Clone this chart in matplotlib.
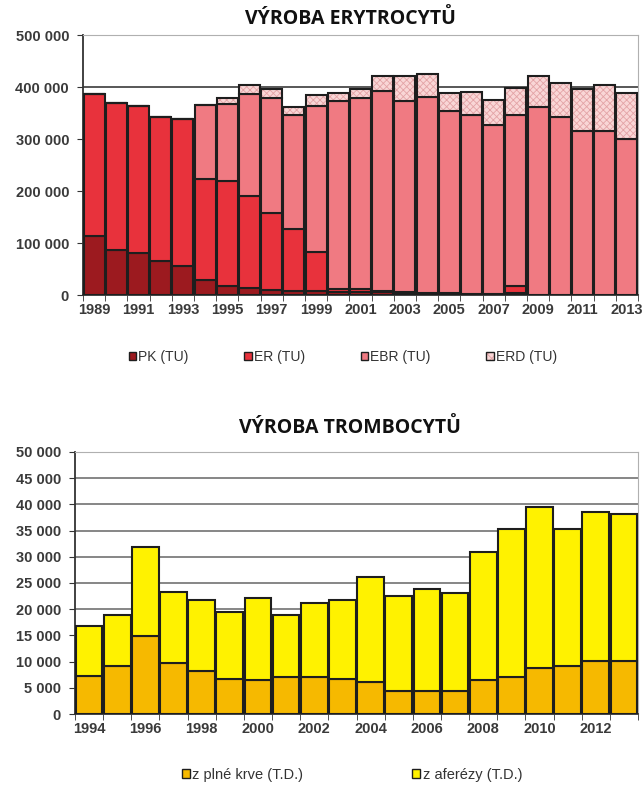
import matplotlib
matplotlib.use("Agg")
import matplotlib.pyplot as plt
import numpy as np
from matplotlib.ticker import FuncFormatter
from matplotlib.patches import Patch
from matplotlib.legend_handler import HandlerTuple

plt.rcParams['hatch.linewidth'] = 0.6

# ---------------- data: erythrocytes ----------------
years_ery = list(range(1989, 2014))
pk = [113000, 87000, 80000, 65000, 56000, 29000, 17000, 13000, 10000, 7000, 8000,
      5000, 6000, 5000, 3000, 2000, 2000, 1500, 1500, 3000, 0, 0, 0, 0, 0]
er = [273000, 282000, 284000, 278000, 283000, 195000, 203000, 177000, 147000, 120000, 74000,
      7000, 6000, 3000, 2000, 2000, 1000, 1000, 1000, 14000, 0, 0, 0, 0, 0]
ebr = [0, 0, 0, 0, 0, 141000, 148000, 197000, 221000, 220000, 282000,
       361000, 366000, 384000, 368000, 377000, 350000, 343500, 323500, 329000, 361000, 343000, 316000, 316000, 300000]
erd = [0, 0, 0, 0, 0, 0, 10000, 17000, 18000, 15000, 20000,
       16000, 19000, 29000, 48000, 44000, 36000, 45000, 49000, 53000, 60000, 65000, 81000, 87000, 89000]
ery_labels = ["PK (TU)", "ER (TU)", "EBR (TU)", "ERD (TU)"]

# ---------------- data: thrombocytes ----------------
years_tr = list(range(1994, 2014))
plna_krev = [7200, 9200, 14900, 9800, 8300, 6700, 6400, 7100, 7000, 6700, 6100,
             4300, 4300, 4300, 6500, 7000, 8800, 9100, 10100, 10100]
afereza_total = [16700, 18900, 31800, 23300, 21700, 19500, 22100, 18900, 21200, 21700, 26100,
                 22500, 23800, 23000, 31000, 35300, 39500, 35300, 38600, 38200]
afereza = [t - p for t, p in zip(afereza_total, plna_krev)]
tr_labels = ["z plné krve (T.D.)", "z aferézy (T.D.)"]

# ---------------- styling ----------------
tick_font = ['Liberation Sans', 'DejaVu Sans']
title_font = ['Open Sans', 'DejaVu Sans']
tick_color = '#3a3a3a'
edge = '#1e1e1e'

def fmt(v, pos):
    return f"{int(v):,}".replace(",", " ")

def style_axes(ax):
    ax.tick_params(axis='x', which='major', length=0, pad=6)
    ax.tick_params(axis='x', which='minor', length=4, color='#333333')
    ax.tick_params(axis='y', length=4, color='#333333', pad=6)
    for sp in ['top', 'right']:
        ax.spines[sp].set_color('#b0b0b0')
    for sp in ['left', 'bottom']:
        ax.spines[sp].set_color('#333333')
        ax.spines[sp].set_linewidth(1.3)
    for lab in ax.get_xticklabels() + ax.get_yticklabels():
        lab.set_family(tick_font)
        lab.set_fontsize(10.5)
        lab.set_color(tick_color)
        lab.set_fontweight('bold')

fig = plt.figure(figsize=(6.42, 7.86), dpi=100)

# ---- top chart ----
ax1 = fig.add_axes([83/642, 1-295/786, (638-83)/642, (295-35)/786])
x1 = np.arange(len(years_ery))
w = 0.95
cols = ['#9c1a1f', '#e8323c', '#f07a82', '#f9d6d6']
bottom = np.zeros(len(x1))
handles1 = []
for i, (vals, c) in enumerate(zip([pk, er, ebr, erd], cols)):
    vals = np.array(vals, dtype=float)
    if i == 3:
        b = ax1.bar(x1, vals, w, bottom=bottom, color=c, edgecolor='#e3a3a6', linewidth=0,
                    hatch='xxxxx', label=ery_labels[i], zorder=3)
        ax1.bar(x1, vals, w, bottom=bottom, color='none', edgecolor=edge, linewidth=1.5, zorder=4)
        handles1.append((Patch(facecolor=c, edgecolor='#e3a3a6', hatch='xxxx', linewidth=0),
                         Patch(facecolor='none', edgecolor=edge, linewidth=1.0)))
    else:
        b = ax1.bar(x1, vals, w, bottom=bottom, color=c, edgecolor=edge, linewidth=1.5,
                    label=ery_labels[i], zorder=3)
        handles1.append(Patch(facecolor=c, edgecolor=edge, linewidth=1.0))
    bottom += vals

ax1.set_xlim(-0.5, len(x1) - 0.5)
ax1.set_ylim(0, 500000)
ax1.set_yticks(np.arange(0, 500001, 100000))
ax1.yaxis.set_major_formatter(FuncFormatter(fmt))
ax1.set_xticks(x1[::2])
ax1.set_xticklabels([str(y) for y in years_ery[::2]])
ax1.set_xticks(np.arange(-0.5, len(x1), 1), minor=True)
ax1.grid(axis='y', color='#4a4a4a', linewidth=1.3, zorder=0)
style_axes(ax1)

fig.text(350/642, 1-19/786, "VÝROBA ERYTROCYTŮ", ha='center', va='center',
         fontsize=14, fontweight='bold', family=title_font, color='#111111')

leg1 = fig.legend(handles=handles1, labels=ery_labels, loc='center', ncol=4,
                  bbox_to_anchor=(343/642, 1-357/786), frameon=False,
                  handlelength=0.55, handleheight=0.55, handletextpad=0.15,
                  columnspacing=4.0, prop={'family': tick_font, 'size': 10},
                  handler_map={tuple: HandlerTuple(ndivide=1)})
for t in leg1.get_texts():
    t.set_color('#333333')

# ---- bottom chart ----
ax2 = fig.add_axes([75/642, 1-714/786, (638-75)/642, (714-452)/786])
x2 = np.arange(len(years_tr))
b1 = ax2.bar(x2, plna_krev, w, color='#f6b900', edgecolor=edge, linewidth=1.5,
             label=tr_labels[0], zorder=3)
b2 = ax2.bar(x2, afereza, w, bottom=plna_krev, color='#fff200', edgecolor=edge, linewidth=1.5,
             label=tr_labels[1], zorder=3)
ax2.set_xlim(-0.5, len(x2) - 0.5)
ax2.set_ylim(0, 50000)
ax2.set_yticks(np.arange(0, 50001, 5000))
ax2.yaxis.set_major_formatter(FuncFormatter(fmt))
ax2.set_xticks(x2[::2])
ax2.set_xticklabels([str(y) for y in years_tr[::2]])
ax2.set_xticks(np.arange(-0.5, len(x2), 1), minor=True)
ax2.grid(axis='y', color='#666666', linewidth=1.1, zorder=0)
style_axes(ax2)

fig.text(350/642, 1-428/786, "VÝROBA TROMBOCYTŮ", ha='center', va='center',
         fontsize=14, fontweight='bold', family=title_font, color='#111111')

tr_handles = [Patch(facecolor='#f6b900', edgecolor=edge, linewidth=1.0),
              Patch(facecolor='#fff200', edgecolor=edge, linewidth=1.0)]
leg2 = fig.legend(handles=tr_handles, labels=tr_labels, loc='center', ncol=2,
                  bbox_to_anchor=(352/642, 1-775/786), frameon=False,
                  handlelength=0.55, handleheight=0.55, handletextpad=0.15,
                  columnspacing=7.5, prop={'family': tick_font, 'size': 10.5})
for t in leg2.get_texts():
    t.set_color('#333333')

fig.savefig("out.png", dpi=100)
